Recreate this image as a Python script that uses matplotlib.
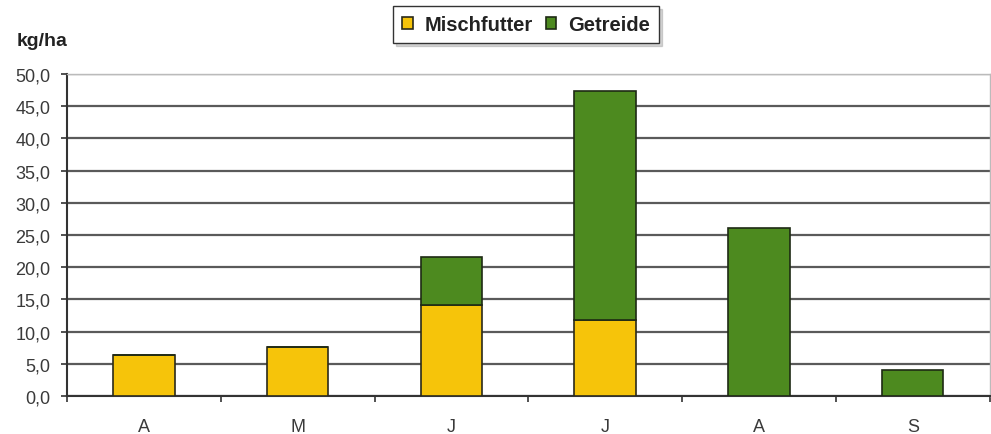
import numpy as np
import matplotlib.pyplot as plt
from matplotlib.ticker import MultipleLocator, FuncFormatter

plt.rcParams['font.family'] = ['Liberation Sans', 'DejaVu Sans']

monate = ['A', 'M', 'J', 'J', 'A', 'S']
mischfutter = [6.4, 7.6, 14.1, 11.8, 0.0, 0.0]
getreide = [0.0, 0.0, 7.5, 35.6, 26.1, 4.0]

gelb = '#F6C40A'
gruen = '#4D8A1F'

fig = plt.figure(figsize=(9.91, 4.35), dpi=100)
ax = fig.add_axes([0.0676, 0.087, 0.931, 0.741])

x = np.arange(len(monate))
breite = 0.4
ax.bar(x, mischfutter, breite, color=gelb, edgecolor='#2a2a1a', linewidth=1.2,
       label='Mischfutter', zorder=3)
ax.bar(x, getreide, breite, bottom=mischfutter, color=gruen, edgecolor='#1e2a14',
       linewidth=1.2, label='Getreide', zorder=3)

ax.set_xlim(-0.5, len(monate) - 0.5)
ax.set_ylim(0, 50)
ax.yaxis.set_major_locator(MultipleLocator(5))
ax.yaxis.set_major_formatter(FuncFormatter(lambda v, p: f'{v:.1f}'.replace('.', ',')))
ax.grid(axis='y', color='#5a5a5a', linewidth=1.6, zorder=0)

ax.set_xticks(x)
ax.set_xticklabels(monate)
ax.set_xticks(np.arange(-0.5, len(monate)), minor=True)
ax.tick_params(axis='x', which='major', length=0, pad=16, labelsize=13, labelcolor='#3a3a3a')
ax.tick_params(axis='x', which='minor', length=4, width=1.2, color='#333333')
ax.tick_params(axis='y', length=4, width=1.2, color='#333333', labelsize=13,
               labelcolor='#3a3a3a', pad=8)

for s in ['left', 'bottom']:
    ax.spines[s].set_color('#333333')
    ax.spines[s].set_linewidth(1.5)
for s in ['top', 'right']:
    ax.spines[s].set_color('#bbbbbb')
    ax.spines[s].set_linewidth(1.0)

fig.text(0.017, 0.905, 'kg/ha', fontsize=14, fontweight='bold', color='#222222', va='center')

leg = fig.legend(loc='upper center', bbox_to_anchor=(0.531, 0.984), ncol=2,
                 frameon=True, fancybox=False, edgecolor='#333333',
                 shadow={'color': '#888888', 'alpha': 0.35},
                 handlelength=0.5, handleheight=0.5, handletextpad=0.6,
                 columnspacing=0.65, borderpad=0.45, borderaxespad=0,
                 prop={'weight': 'bold', 'size': 14.5})
leg.get_frame().set_linewidth(1.0)
for t in leg.get_texts():
    t.set_color('#222222')

fig.savefig('out.png', dpi=100)
